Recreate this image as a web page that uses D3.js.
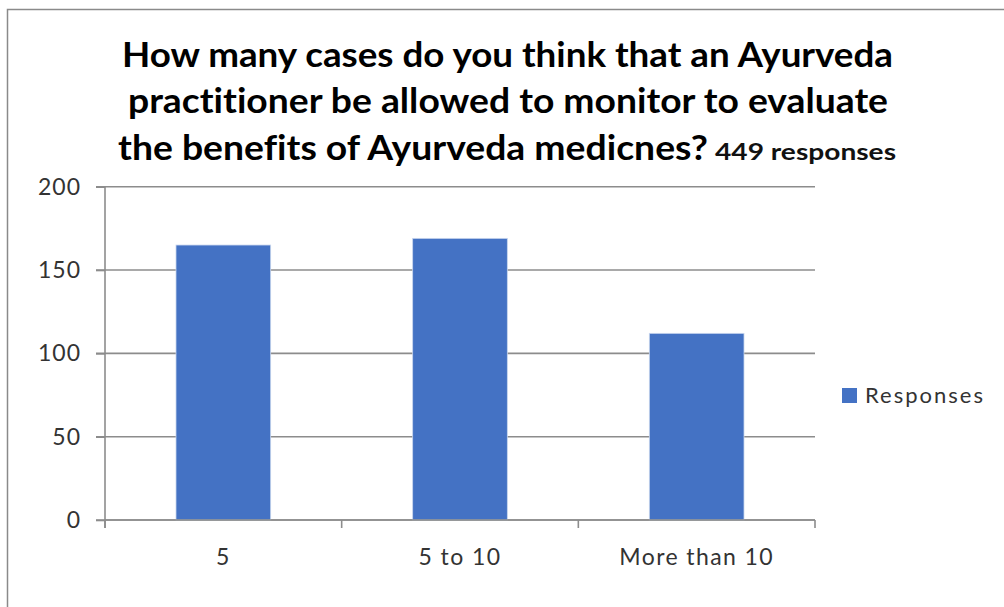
<!DOCTYPE html>
<html>
<head>
<meta charset="utf-8">
<script src="https://cdn.jsdelivr.net/npm/d3@7"></script>
<style>
  html, body { margin: 0; padding: 0; background: #fff; }
  svg { display: block; }
  text { font-family: Lato, "Open Sans", "DejaVu Sans", sans-serif; font-variant-ligatures: none; }
</style>
</head>
<body>
<svg id="chart" width="1004" height="607"></svg>
<script>
const categories = ["5", "5 to 10", "More than 10"];
const responses = [165, 169, 112];
const yTicks = [0, 50, 100, 150, 200];
const titleLines = [
  "How many cases do you think that an  Ayurveda",
  "practitioner be allowed to monitor to evaluate",
  "the benefits of Ayurveda medicnes?"
];
const titleNote = "449 responses";
const seriesName = "Responses";

(function () {
const svg = d3.select("#chart");
const barColor = "#4472C4";
const gridColor = "#8c8c8c";
const textColor = "#333333";

// outer frame
svg.append("rect")
  .attr("x", 7.5).attr("y", 9.5)
  .attr("width", 1010).attr("height", 620)
  .attr("fill", "#fff").attr("stroke", "#8a8a8a").attr("stroke-width", 1.5);

const pLeft = 105, pRight = 815, pTop = 186.7, pBottom = 520;

const x = d3.scaleBand().domain(categories).range([pLeft, pRight])
  .paddingInner(0.6).paddingOuter(0.3);
const y = d3.scaleLinear().domain([0, 200]).range([pBottom, pTop]);

// gridlines
svg.append("g").selectAll("line").data(yTicks).join("line")
  .attr("x1", pLeft - 9).attr("x2", pRight)
  .attr("y1", d => y(d)).attr("y2", d => y(d))
  .attr("stroke", gridColor).attr("stroke-width", 1.6);

// bars
svg.append("g").selectAll("rect").data(responses).join("rect")
  .attr("x", (d, i) => x(categories[i]))
  .attr("width", x.bandwidth())
  .attr("y", d => y(d))
  .attr("height", d => y(0) - y(d))
  .attr("fill", barColor)
  .attr("stroke", "#c9d6ee").attr("stroke-width", 0.8);

// y axis
const yAxis = svg.append("g")
  .attr("transform", `translate(${pLeft},0)`)
  .call(d3.axisLeft(y).tickValues(yTicks).tickSize(9).tickPadding(15));
yAxis.selectAll("path, line").attr("stroke", gridColor).attr("stroke-width", 1.6);
yAxis.select(".domain").attr("d", `M0,${pTop}V${pBottom + 8}`);
yAxis.selectAll("text")
  .attr("fill", textColor).attr("font-size", 23)
  .style("letter-spacing", "1px")
  .style("font-family", "Lato, 'Open Sans', sans-serif");

// x axis
const xAxis = svg.append("g")
  .attr("transform", `translate(0,${pBottom})`)
  .call(d3.axisBottom(x).tickSize(0).tickPadding(29));
xAxis.select(".domain").attr("stroke", gridColor).attr("stroke-width", 1.6)
  .attr("d", `M${pLeft},0H${pRight}`);
xAxis.selectAll("text")
  .attr("fill", textColor).attr("font-size", 23)
  .style("letter-spacing", "1.4px")
  .style("font-family", "Lato, 'Open Sans', sans-serif")
  .attr("dy", "0.71em");
// boundary ticks
const step = x.step();
const boundaries = d3.range(categories.length + 1).map(i => x.range()[0] + i * step);
svg.append("g").selectAll("line").data(boundaries).join("line")
  .attr("x1", d => d).attr("x2", d => d)
  .attr("y1", pBottom).attr("y2", pBottom + 8)
  .attr("stroke", gridColor).attr("stroke-width", 1.6);

// title
const titleG = svg.append("g");
const lineWidths = [771, 760, 590];
const lineStarts = [122, 128, 118];
const baselines = [67, 113, 160];
titleLines.forEach((t, i) => {
  titleG.append("text")
    .attr("x", lineStarts[i]).attr("y", baselines[i])
    .attr("font-size", 34).attr("font-weight", 700)
    .attr("fill", "#000")
    .attr("textLength", lineWidths[i]).attr("lengthAdjust", "spacingAndGlyphs")
    .text(t);
});
titleG.append("text")
  .attr("x", 715).attr("y", 160)
  .attr("font-size", 22).attr("font-weight", 700)
  .attr("fill", "#111")
  .attr("textLength", 181).attr("lengthAdjust", "spacingAndGlyphs")
  .text(titleNote);

// legend
const legend = svg.append("g");
legend.append("rect")
  .attr("x", 842).attr("y", 388).attr("width", 15).attr("height", 15)
  .attr("fill", barColor);
legend.append("text")
  .attr("x", 865).attr("y", 403)
  .attr("font-size", 22).attr("fill", textColor)
  .attr("textLength", 118).attr("lengthAdjust", "spacing")
  .text(seriesName);
})();
</script>
</body>
</html>
